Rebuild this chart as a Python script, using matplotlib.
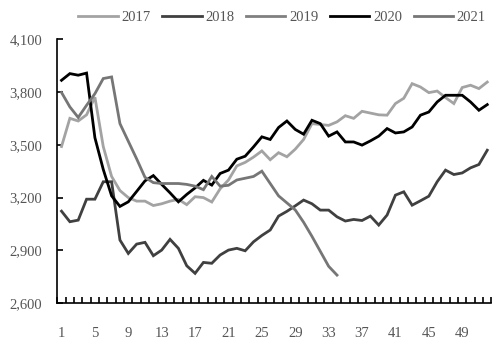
import matplotlib
matplotlib.use("Agg")
import matplotlib.pyplot as plt
import numpy as np

# weekly prices, week 1..52
weeks = list(range(1, 53))

y2017 = [3490, 3650, 3635, 3670, 3770, 3490, 3320, 3240, 3200, 3180,
         3180, 3155, 3165, 3180, 3190, 3160, 3205, 3200, 3175, 3250,
         3300, 3380, 3400, 3430, 3465, 3415, 3455, 3432, 3475, 3530,
         3620, 3615, 3610, 3630, 3665, 3650, 3690, 3680, 3670, 3668,
         3734, 3764, 3847, 3828, 3796, 3805, 3768, 3734, 3825, 3838,
         3819, 3856]

y2018 = [3123, 3063, 3072, 3191, 3191, 3290, 3290, 2959, 2883, 2936,
         2946, 2870, 2902, 2963, 2912, 2813, 2770, 2832, 2827, 2874,
         2902, 2912, 2898, 2949, 2985, 3016, 3095, 3122, 3153, 3186,
         3165, 3129, 3129, 3091, 3067, 3076, 3070, 3095, 3044, 3101,
         3214, 3233, 3157, 3182, 3208, 3290, 3356, 3331, 3340, 3369,
         3388, 3469]

y2019 = []

y2020 = [3866, 3904, 3895, 3907, 3540, 3360, 3210, 3150, 3176, 3235,
         3295, 3325, 3275, 3227, 3176, 3218, 3255, 3298, 3271, 3337,
         3356, 3418, 3435, 3488, 3545, 3530, 3598, 3635, 3587, 3560,
         3639, 3620, 3549, 3573, 3516, 3516, 3498, 3522, 3549, 3592,
         3567, 3573, 3601, 3668, 3686, 3743, 3781, 3781, 3781, 3743,
         3696, 3728]

y2021 = [3797, 3715, 3655, 3724, 3790, 3876, 3885, 3620, 3520, 3420,
         3315, 3285, 3280, 3280, 3280, 3275, 3265, 3245, 3320, 3265,
         3270, 3300, 3310, 3320, 3350, 3280, 3210, 3170, 3130, 3060,
         2980, 2895, 2810, 2760]

series = [("2017", y2017, "#a3a3a3"),
          ("2018", y2018, "#404040"),
          ("2019", y2019, "#808080"),
          ("2020", y2020, "#000000"),
          ("2021", y2021, "#767676")]

plt.rcParams['font.family'] = ['Liberation Serif', 'DejaVu Serif']

fig = plt.figure(figsize=(5.03, 3.49), dpi=100)
ax = fig.add_axes([0.114, 0.131, 0.863, 0.757])

for name, vals, col in series:
    ax.plot(weeks[:len(vals)], vals, color=col, lw=2.0, label=name,
            solid_joinstyle='miter')

ax.set_xlim(0.5, 52.5)
ax.set_ylim(2600, 4100)
ax.set_yticks([2600, 2900, 3200, 3500, 3800, 4100])
ax.set_yticklabels(["{:,}".format(v) for v in [2600, 2900, 3200, 3500, 3800, 4100]])
ax.set_xticks(np.arange(1, 53, 4))
ax.set_xticks(np.arange(0.5, 53, 1), minor=True)

for s in ["top", "right"]:
    ax.spines[s].set_visible(False)
for s in ["left", "bottom"]:
    ax.spines[s].set_color("black")
    ax.spines[s].set_linewidth(1.2)

ax.tick_params(axis='y', direction='in', length=4, width=1.2,
               colors='black', labelcolor='#555555', labelsize=10.5, pad=11)
ax.tick_params(axis='x', which='major', length=0, labelcolor='#555555',
               labelsize=10.5, pad=17)
ax.tick_params(axis='x', which='minor', direction='in', length=4,
               width=1.2, color='black')

fig.legend(loc='center', bbox_to_anchor=(0.561, 0.951), ncol=5,
           frameon=False, fontsize=10.5, labelcolor='#555555',
           handlelength=2.7, handletextpad=0.25, columnspacing=0.8)

fig.savefig("out.png", dpi=100)
